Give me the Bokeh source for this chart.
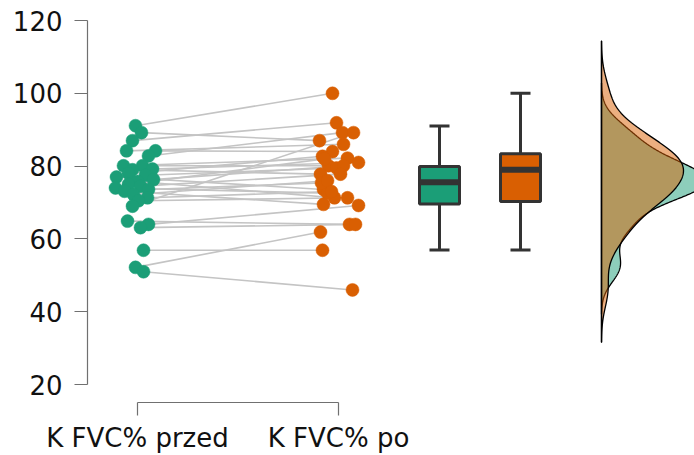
import numpy as np
from bokeh.plotting import figure
from bokeh.models import Range1d, FixedTicker
from bokeh.embed import file_html
from bokeh.resources import INLINE

# ---- data ----
labels = ["K FVC% przed", "K FVC% po"]
pre = [91.1, 89.2, 87.0, 84.2, 84.2, 82.8, 80.1, 80.1, 79.2, 79.0, 78.0, 77.5, 77.0, 76.3, 75.8,
       75.0, 74.5, 74.0, 73.6, 73.1, 72.2, 71.3, 70.5, 69.0, 64.9, 64.0, 63.1, 56.9, 52.2, 51.0]
post = [100.0, 87.0, 91.9, 86.0, 84.0, 89.2, 82.2, 80.1, 81.0, 77.8, 82.7, 79.5, 73.6, 80.1, 71.3,
        82.0, 77.8, 72.6, 75.4, 69.5, 76.0, 73.0, 71.3, 89.2, 64.0, 69.2, 64.0, 56.9, 61.9, 46.0]
# horizontal jitter (pixels from category centre)
jit_pre = [-2, 4, -5, -11, 18, 11, -14, 5, 15, -5, -9, 8, -21, 16, 0,
           -9, 3, -22, 11, -13, -4, 10, 1, -5, -10, 11, 3, 6, -2, 6]
jit_post = [-6, -19, -2, 5, -6, 4, 9, -10, 20, -18, -16, -2, -15, 5, -4,
            -14, 2, -11, -17, -15, -11, -7, 9, 15, 11, 20, 17, -16, -18, 14]
# boxplot stats: lower whisker, q1, median, q3, upper whisker
box_lo = [57.0, 57.0]
box_q1 = [69.6, 70.3]
box_med = [75.6, 79.0]
box_q3 = [79.9, 83.4]
box_hi = [91.0, 100.0]

colors = ["#1b9e77", "#d95f02"]

# ---- layout constants (pixels) ----
PX = 201.0  # pixels per category unit
W, H = 694, 455
frame_left, frame_top, frame_bottom = 87, 20, 404
y_top, y_px_per_unit = 120.0, 3.66
y_bottom = y_top - (frame_bottom - frame_top) / y_px_per_unit
x_left = 1 + (frame_left - 137) / PX
x_right = 1 + (W - 137) / PX

p = figure(width=W, height=H, output_backend="svg", toolbar_location=None,
           x_range=Range1d(x_left, x_right), y_range=Range1d(y_bottom, y_top),
           min_border_left=frame_left, min_border_top=frame_top,
           min_border_bottom=H - frame_bottom, min_border_right=0)
p.grid.visible = False
p.outline_line_color = None
p.background_fill_color = "white"
p.border_fill_color = "white"

pre_x = [1 + j / PX for j in jit_pre]
post_x = [2 + j / PX for j in jit_post]

p.segment(x0=pre_x, y0=pre, x1=post_x, y1=post, line_color="#c4c4c4", line_width=1.6)
p.scatter(pre_x, pre, size=13, fill_color=colors[0], line_color=colors[0], line_width=0.5)
p.scatter(post_x, post, size=13, fill_color=colors[1], line_color=colors[1], line_width=0.5)

# boxplots
box_x = [1 + (439 - 137) / PX, 1 + (520 - 137) / PX]
bw_box = 40 / PX
cap = 20 / PX
dark = "#333333"
p.segment(x0=box_x, y0=box_q3, x1=box_x, y1=box_hi, line_color=dark, line_width=3)
p.segment(x0=box_x, y0=box_q1, x1=box_x, y1=box_lo, line_color=dark, line_width=3)
p.segment(x0=[x - cap / 2 for x in box_x], y0=box_hi, x1=[x + cap / 2 for x in box_x], y1=box_hi,
          line_color=dark, line_width=3)
p.segment(x0=[x - cap / 2 for x in box_x], y0=box_lo, x1=[x + cap / 2 for x in box_x], y1=box_lo,
          line_color=dark, line_width=3)
p.vbar(x=box_x, width=bw_box, top=box_q3, bottom=box_q1, fill_color=colors,
       line_color=dark, line_width=3)
p.segment(x0=[x - bw_box / 2 for x in box_x], y0=box_med, x1=[x + bw_box / 2 for x in box_x],
          y1=box_med, line_color=dark, line_width=6)

# densities (Gaussian KDE, bandwidth per group from R's bw.nrd0 with adjust, cut = 3 bw)
base = 1 + (601 - 137) / PX
ADJUST = 1.25
def nrd0(vals):
    v = np.asarray(vals)
    iqr = np.subtract(*np.percentile(v, [75, 25]))
    return 0.9 * min(v.std(ddof=1), iqr / 1.34) * len(v) ** -0.2
def kde(vals):
    v = np.asarray(vals)
    bw = nrd0(v) * ADJUST
    grid = np.linspace(v.min() - 3 * bw, v.max() + 3 * bw, 400)
    d = np.exp(-0.5 * ((grid[None, :] - v[:, None]) / bw) ** 2).sum(0) / (len(v) * bw * np.sqrt(2 * np.pi))
    return grid, d
g_pre, d_pre = kde(pre)
g_post, d_post = kde(post)
scale = (82 / PX) / d_post.max()
for g, d, c in [(g_pre, d_pre, colors[0]), (g_post, d_post, colors[1])]:
    xs = np.concatenate([[base], base + d * scale, [base]])
    ys = np.concatenate([[g[0]], g, [g[-1]]])
    p.patch(xs, ys, fill_color=c, fill_alpha=0.5, line_color="black", line_width=1.3)
lo = min(g_pre[0], g_post[0]); hi = max(g_pre[-1], g_post[-1])
p.segment(x0=[base], y0=[lo], x1=[base], y1=[hi], line_color="black", line_width=1.3)

# axes
font = "DejaVu Sans"
ax_col = "#707070"
yax = p.yaxis[0]
yax.ticker = FixedTicker(ticks=[20, 40, 60, 80, 100, 120])
yax.bounds = (20, 120)
xax = p.xaxis[0]
xax.ticker = FixedTicker(ticks=[1, 2])
xax.bounds = (1, 2)
xax.major_label_overrides = {1: labels[0], 2: labels[1]}
for ax in (xax, yax):
    ax.axis_line_color = ax_col
    ax.axis_line_width = 1.2
    ax.major_tick_line_color = ax_col
    ax.major_tick_line_width = 1.2
    ax.major_tick_out = 13
    ax.major_tick_in = 0
    ax.minor_tick_line_color = None
    ax.major_label_text_font = font
    ax.major_label_text_font_size = "26px"
    ax.major_label_text_color = "#111111"
yax.major_label_standoff = 12
xax.major_label_standoff = 7

open("out.html", "w").write(file_html(p, INLINE))
